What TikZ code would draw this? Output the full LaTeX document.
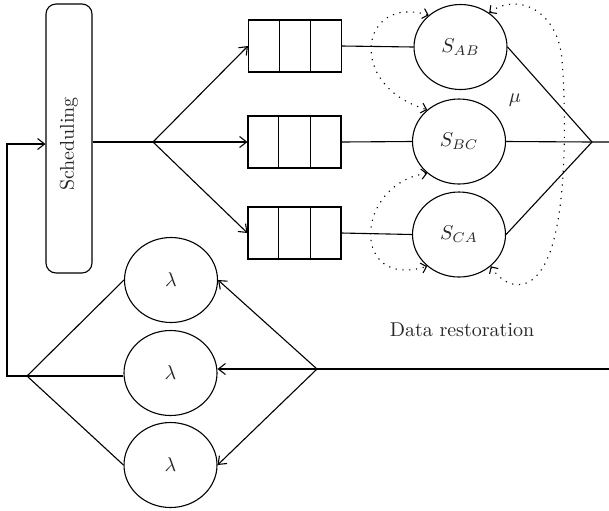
\documentclass[tikz,border=0pt]{standalone}
\usetikzlibrary{shapes.geometric,arrows.meta,calc}
\begin{document}
\begin{tikzpicture}[x=0.5pt,y=-0.5pt, line width=0.55pt,
  srv/.style={draw, ellipse, minimum width=46.5pt, minimum height=42.5pt, inner sep=0pt},
  que/.style={draw, rectangle, minimum width=46.5pt, minimum height=26pt, inner sep=0pt},
  arr/.style={-{Straight Barb[length=3.5pt,width=5.5pt]}},
  dotloop/.style={dash pattern=on 0.6pt off 2.8pt, {Straight Barb[angle=90:3.6pt]}-{Straight Barb[angle=90:3.6pt]}},
  lbl/.style={text=black!85}]
\useasboundingbox (0,0) rectangle (609,510);
% scheduling
\node[draw, rounded corners=5pt, minimum width=23pt, minimum height=134.5pt, inner sep=0pt] (sch) at (69,138.5) {};
\node[rotate=90, lbl] (schT) at (69,144) {Scheduling};
\coordinate (fork) at (153,142);
% queues
\node[que] (q1) at (295,46) {};
\node[que] (q2) at (294.5,142) {};
\node[que] (q3) at (294.5,233) {};
\foreach \q in {q1,q2,q3}{
  \draw ($(\q.north west)!1/3!(\q.north east)$) -- ($(\q.south west)!1/3!(\q.south east)$);
  \draw ($(\q.north west)!2/3!(\q.north east)$) -- ($(\q.south west)!2/3!(\q.south east)$);
}
% servers
\node[srv, lbl] (sab) at (460.5,47) {$S_{AB}$};
\node[srv, lbl] (sbc) at (459,141.5) {$S_{BC}$};
\node[srv, lbl] (sca) at (459,234.5) {$S_{CA}$};
\node[lbl] (mu) at (515,100) {$\mu$};
\coordinate (join) at (592,142);
\coordinate (outR) at (609,142);
% lambda sources
\node[srv, lbl] (l1) at (171,280) {$\lambda$};
\node[srv, lbl] (l2) at (170.5,373) {$\lambda$};
\node[srv, lbl] (l3) at (170.5,465) {$\lambda$};
\coordinate (lsplit) at (27,376);
\coordinate (rsplit) at (317,369);
\coordinate (inR) at (609,369);
\coordinate (corner) at (7,376);
\node[lbl] (dr) at (462,330) {Data restoration};
% connectors top
\draw (sch.east |- fork) -- (fork);
\draw[arr] (fork) -- (q1.west);
\draw[arr] (fork) -- (q2.west);
\draw[arr] (fork) -- (q3.west);
\draw (q1.east) -- (sab.west);
\draw (q2.east) -- (sbc.west);
\draw (q3.east) -- (sca.west);
\draw (sab.east) -- (join);
\draw (sca.east) -- (join);
\draw (sbc.east) -- (join) -- (outR);
% connectors bottom
\draw (inR) -- (rsplit);
\draw[arr] (rsplit) -- (l1.east);
\draw[arr] (rsplit) -- (rsplit -| l2.east);
\draw[arr] (rsplit) -- (l3.east);
\draw (lsplit) -- (l1.west);
\draw (lsplit) -- (lsplit -| l2.west);
\draw (lsplit) -- (l3.west);
\draw[arr] (lsplit) -- (corner) |- (sch.west |- schT.center);
% dotted restoration loops
\draw[dotloop] (sab.135) .. controls +(-69,-21) and +(-81.5,-24) .. (sbc.135);
\draw[dotloop] (sbc.225) .. controls +(-72.6,10.6) and +(-77.6,24) .. (sca.225);
\draw[dotloop] (sab.50) .. controls +(28,-21) and (558,10) .. (562,60)
   .. controls (566,110) and (566,190) .. (555,235)
   .. controls (540,300) and +(15,24) .. (sca.-45);
\end{tikzpicture}
\end{document}
